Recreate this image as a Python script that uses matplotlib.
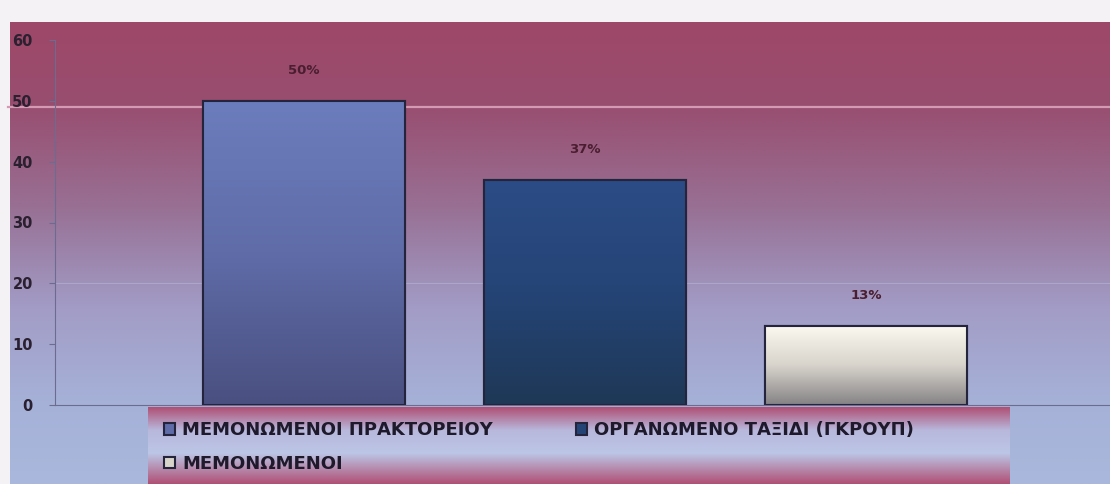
import numpy as np
import matplotlib
matplotlib.use("Agg")
import matplotlib.pyplot as plt
from matplotlib.colors import LinearSegmentedColormap
from matplotlib.patches import Rectangle

# values
series = ["ΜΕΜΟΝΩΜΕΝΟΙ ΠΡΑΚΤΟΡΕΙΟΥ", "ΟΡΓΑΝΩΜΕΝΟ ΤΑΞΙΔΙ (ΓΚΡΟΥΠ)", "ΜΕΜΟΝΩΜΕΝΟΙ"]
values = [50, 37, 13]
labels = ["50%", "37%", "13%"]
yticks = [0, 10, 20, 30, 40, 50, 60]

plt.rcParams['font.family'] = ['DejaVu Sans']

# gradient fills for the bars (top -> bottom)
bar_grads = [
    ["#6c7dbd", "#5f6ca8", "#4a5080"],
    ["#2b4c86", "#254476", "#1e3856"],
    ["#fbf9f0", "#d8d4cc", "#858285"],
]

fig = plt.figure(figsize=(11.1, 4.84), dpi=100)
fig.patch.set_facecolor("#f4f2f4")

# chart area background gradient
bg = fig.add_axes([10 / 1110, 0, 1 - 10 / 1110, (484 - 22) / 484])
bg_cmap = LinearSegmentedColormap.from_list(
    "bg", [(0, "#9e4868"), (0.18, "#984e70"), (0.4, "#987094"),
           (0.62, "#a29cc6"), (0.82, "#a6b1d8"), (1, "#a9b8dc")])
bg.imshow(np.linspace(0, 1, 256).reshape(-1, 1), aspect="auto", cmap=bg_cmap,
          extent=[0, 1, 0, 1], origin="upper")
bg.set_axis_off()

ax = fig.add_axes([55 / 1110, 79 / 484, 1055 / 1110, 365 / 484])
ax.patch.set_alpha(0)

x = np.arange(len(values))
bars = ax.bar(x, values, width=0.72, edgecolor="#24253c", linewidth=1.5, zorder=3)
for b, name, cols in zip(bars, series, bar_grads):
    cmap = LinearSegmentedColormap.from_list("g", cols)
    b.set_facecolor(cols[1])
    im = ax.imshow(np.linspace(0, 1, 256).reshape(-1, 1), aspect="auto", cmap=cmap,
                   extent=[b.get_x(), b.get_x() + b.get_width(), 0, b.get_height()],
                   origin="upper", zorder=3.5)
    im.set_clip_path(b)
    # redraw the edge on top
    ax.add_patch(Rectangle((b.get_x(), 0), b.get_width(), b.get_height(),
                           fill=False, edgecolor="#24253c", linewidth=1.5, zorder=4))

for xi, v, t in zip(x, values, labels):
    ax.annotate(t, (xi, v), xytext=(0, 17), textcoords="offset points",
                ha="center", va="bottom", fontsize=9.5, fontweight="bold",
                color="#4a1e30")

ax.set_xlim(-0.886, 2.868)
ax.set_ylim(0, 60)
ax.set_yticks(yticks)
ax.set_yticklabels([str(t) for t in yticks], fontsize=10.5, fontweight="bold",
                   color="#2a2030")
ax.set_xticks([])
ax.tick_params(axis="y", length=4, color="#6c6c90", pad=12)
for s in ["top", "right"]:
    ax.spines[s].set_visible(False)
ax.spines["left"].set_color("#6c6c90")
ax.spines["bottom"].set_color("#6c6c90")
ax.axhline(20, color="#b0b8d8", lw=0.8, alpha=0.6, zorder=1)
ax.axhline(49, xmin=-0.045, xmax=1, color="#d49ab4", lw=1.6, zorder=1, clip_on=False)

# legend box background
lg = fig.add_axes([148 / 1110, 0, (1010 - 148) / 1110, 77 / 484])
lg_cmap = LinearSegmentedColormap.from_list(
    "lg", [(0, "#b04f74"), (0.3, "#b8b8dc"), (0.6, "#bcc6e6"), (1, "#b04f74")])
lg.imshow(np.linspace(0, 1, 256).reshape(-1, 1), aspect="auto", cmap=lg_cmap,
          extent=[0, 1, 0, 1], origin="upper")
lg.set_axis_off()

# row-wise order: legend fills columns first
order = [0, 2, 1]
leg = fig.legend(handles=[bars[i] for i in order], labels=[series[i] for i in order],
                 ncol=2, loc="upper left", bbox_to_anchor=(148 / 1110, 79 / 484),
                 frameon=False, prop={"size": 13, "weight": "bold"},
                 handlelength=0.6, handleheight=0.6, handletextpad=0.4,
                 columnspacing=4.6, labelspacing=0.85)
for t in leg.get_texts():
    t.set_color("#1e1a2c")

fig.savefig("out.png", dpi=100)
